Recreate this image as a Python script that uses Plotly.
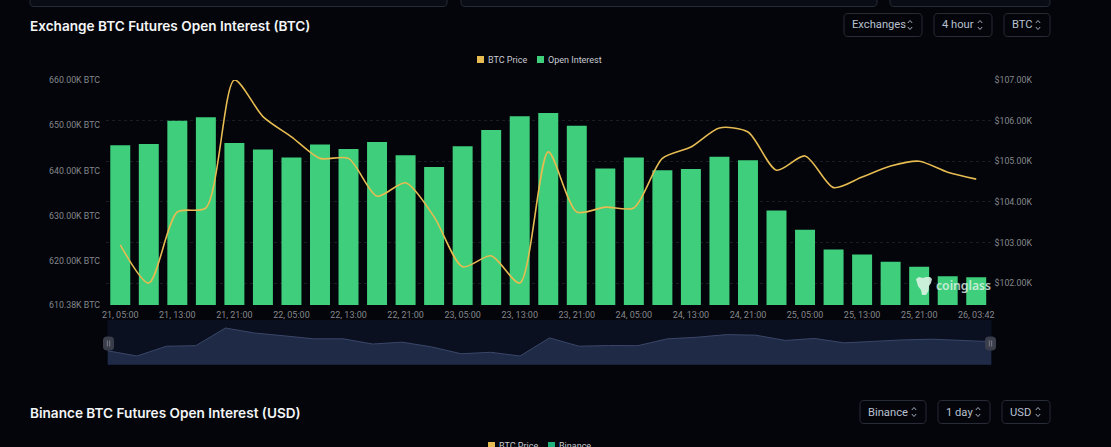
import plotly.graph_objects as go

W, H = 1111, 447

categories = ["21, 05:00","21, 09:00","21, 13:00","21, 17:00","21, 21:00","22, 01:00","22, 05:00","22, 09:00",
              "22, 13:00","22, 17:00","22, 21:00","23, 01:00","23, 05:00","23, 09:00","23, 13:00","23, 17:00",
              "23, 21:00","24, 01:00","24, 05:00","24, 09:00","24, 13:00","24, 17:00","24, 21:00","25, 01:00",
              "25, 05:00","25, 09:00","25, 13:00","25, 17:00","25, 21:00","26, 01:00","26, 03:42"]
open_interest = [645.6,645.9,651.0,651.8,646.1,644.7,642.9,645.8,644.8,646.3,643.4,640.8,645.4,649.0,652.0,652.7,
                 649.9,640.5,642.9,640.1,640.4,643.1,642.3,631.2,627.0,622.6,621.5,619.9,618.8,616.7,616.5]
btc_price = [102.94,102.0,103.75,103.85,107.0,106.1,105.6,105.07,105.07,104.14,104.47,103.63,102.4,102.67,102.0,105.23,
             103.75,103.87,103.85,105.07,105.35,105.82,105.72,104.78,105.13,104.35,104.61,104.88,105.0,104.73,104.56]
x_ticks = ["21, 05:00","21, 13:00","21, 21:00","22, 05:00","22, 13:00","22, 21:00","23, 05:00","23, 13:00",
           "23, 21:00","24, 05:00","24, 13:00","24, 21:00","25, 05:00","25, 13:00","25, 21:00","26, 03:42"]
oi_ticks = [610.38,620,630,640,650,660]
oi_labels = ["610.38K BTC","620.00K BTC","630.00K BTC","640.00K BTC","650.00K BTC","660.00K BTC"]
price_ticks = [102,103,104,105,106,107]
price_labels = ["$102.00K","$103.00K","$104.00K","$105.00K","$106.00K","$107.00K"]

BG = "#03050a"
GREEN = "#3fcf7c"
GOLD = "#e5bb52"
TICK = "#85878c"
BORDER = "#282c36"
FONT = "Roboto"
UI = "Inter"

def px(x): return x / W
def py(y): return 1 - y / H
def P(x, y): return f"{px(x):.5f},{py(y):.5f}"

fig = go.Figure()
fig.add_bar(x=categories, y=open_interest, marker=dict(color=GREEN, line_width=0), name="Open Interest",
            xaxis="x", yaxis="y", showlegend=False, hoverinfo="skip")
fig.add_scatter(x=categories, y=btc_price, mode="lines", name="BTC Price", xaxis="x", yaxis="y2", showlegend=False,
                line=dict(color=GOLD, width=1.6, shape="spline", smoothing=0.75), hoverinfo="skip")
fig.add_scatter(x=categories, y=btc_price, mode="lines", xaxis="x3", yaxis="y3", showlegend=False,
                line=dict(color="#3a4768", width=1), fill="tozeroy", fillcolor="#1f2a47", hoverinfo="skip")

shapes, annots = [], []

def text(x, y, s, size, color, anchor="left", family=FONT, weight=400, opacity=1):
    annots.append(dict(x=px(x), y=py(y), xref="paper", yref="paper", text=s, showarrow=False, xanchor=anchor,
                       yanchor="middle", opacity=opacity, xshift=0, yshift=0, borderpad=0, borderwidth=0,
                       font=dict(size=size, color=color, family=family, weight=weight)))

def paper_rr(x0, y0, x1, y1, r):
    return (f"M{P(x0+r,y0)} L{P(x1-r,y0)} Q{P(x1,y0)} {P(x1,y0+r)} L{P(x1,y1-r)} Q{P(x1,y1)} {P(x1-r,y1)} "
            f"L{P(x0+r,y1)} Q{P(x0,y1)} {P(x0,y1-r)} L{P(x0,y0+r)} Q{P(x0,y0)} {P(x0+r,y0)} Z")

def box(x0, y0, x1, y1, r=4, fill="#090c14", line=BORDER):
    shapes.append(dict(type="path", layer="below", fillcolor=fill, line=dict(color=line, width=1), xref="paper", yref="paper",
                       path=paper_rr(x0, y0, x1, y1, r)))

def chevrons(cx, cy, color="#a6adbb"):
    for s in (-1, 1):
        shapes.append(dict(type="path", xref="paper", yref="paper", line=dict(color=color, width=1),
                           path=f"M{P(cx-2.2,cy+s*2)} L{P(cx,cy+s*4.5)} L{P(cx+2.2,cy+s*2)}"))

def button(x0, x1, y0, y1, label):
    box(x0, y0, x1, y1, fill=BG)
    text(x0 + 7.5, (y0 + y1) / 2, label, 11.2, "#b9c0cf", family=FONT)
    chevrons(x1 - 12, (y0 + y1) / 2)

# cut-off controls at the very top
box(30, -12, 447, 6.5)
box(461, -12, 877, 6.5)
box(890, -12, 1050, 6.5)

text(30, 26, "Exchange BTC Futures Open Interest (BTC)", 13.6, "#f4f5f7", family=UI, weight=600)
text(30, 412.5, "Binance BTC Futures Open Interest (USD)", 13.6, "#f4f5f7", family=UI, weight=600)

button(844, 922, 13.5, 36.5, "Exchanges")
button(934, 992, 13.5, 36.5, "4 hour")
button(1004, 1050, 13.5, 36.5, "BTC")
button(860, 926, 400.5, 423.5, "Binance")
button(938, 990, 400.5, 423.5, "1 day")
button(1002, 1050, 400.5, 423.5, "USD")

def legend_item(x, y, color, label):
    shapes.append(dict(type="rect", xref="paper", yref="paper", x0=px(x), x1=px(x + 7), y0=py(y + 3.5), y1=py(y - 3.5),
                       fillcolor=color, line_width=0))
    text(x + 10.5, y, label, 9, "#c8cad0")

legend_item(477, 59.5, GOLD, "BTC Price")
legend_item(537, 59.5, GREEN, "Open Interest")
legend_item(488, 445.5, GOLD, "BTC Price")
legend_item(548, 445.5, "#1fb27a", "Binance")

# minimap handles
for cx in (108.5, 990.5):
    shapes.append(dict(type="path", xref="paper", yref="paper", layer="above", fillcolor="#3a3d4a",
                       line=dict(color="#3a3d4a", width=1), path=paper_rr(cx - 5, 337, cx + 5, 350, 3)))
    for dx in (-1.2, 1.2):
        shapes.append(dict(type="line", xref="paper", yref="paper", x0=px(cx + dx), x1=px(cx + dx), y0=py(340.5), y1=py(346.5),
                           line=dict(color="#8b8e99", width=0.8), layer="above"))

# coinglass watermark
logo = [(916,279),(919,277),(923,278),(926,277),(930,277),(932,279),(931,283),(929,286),(928.5,291),(926,295),(922,295),(921,290),(918,286)]
shapes.append(dict(type="path", xref="paper", yref="paper", layer="above", fillcolor="#d9f3e4", line_width=0, opacity=0.9,
                   path="M" + " L".join(P(*p) for p in logo) + " Z"))
text(936, 285.5, "coinglass", 12.2, "#e6f5ec", family="Noto Sans", weight=600, opacity=0.8)

fig.update_layout(
    width=W, height=H, autosize=False, margin=dict(l=0, r=0, t=0, b=0, pad=0, autoexpand=False),
    paper_bgcolor=BG, plot_bgcolor=BG, bargap=0.3, showlegend=False,
    shapes=shapes, annotations=annots,
    xaxis=dict(domain=[px(106), px(990.5)], type="category", categoryorder="array", categoryarray=categories,
               range=[-0.5, 30.5], tickmode="array", tickvals=x_ticks, ticktext=x_ticks, tickangle=0, ticklabelstandoff=3,
               tickfont=dict(size=9, color=TICK, family=FONT), showgrid=False, showline=False, zeroline=False, ticks="", ticklabeloverflow="allow"),
    yaxis=dict(domain=[py(305), py(80)], range=[610.38, 660], tickmode="array", tickvals=oi_ticks, ticktext=oi_labels, ticklabelstandoff=5,
               tickfont=dict(size=8.8, color=TICK, family=FONT), showgrid=False, zeroline=False, showline=False, ticks=""),
    yaxis2=dict(domain=[py(305), py(80)], overlaying="y", side="right", anchor="x", range=[101.46, 107], tickmode="array", ticklabelstandoff=3,
                tickvals=price_ticks, ticktext=price_labels, tickfont=dict(size=8.8, color=TICK, family=FONT),
                showgrid=True, gridcolor="#191c23", griddash="3px,3px", gridwidth=1, zeroline=False, showline=False, ticks=""),
    xaxis3=dict(domain=[px(107.5), px(991.5)], anchor="y3", type="category", categoryorder="array", categoryarray=categories,
                range=[0, 30], visible=False),
    yaxis3=dict(domain=[py(364.7), py(320)], anchor="x3", range=[100.45, 108.43], showgrid=False, zeroline=False,
                showticklabels=False, ticks="", showline=False),
)
fig.add_shape(type="rect", xref="x3 domain", yref="y3 domain", x0=0, x1=1, y0=0, y1=1, fillcolor="#0a1020", line_width=0, layer="below")

fig.write_html("out.html", config=dict(displayModeBar=False), post_script="document.body.style.margin='0';document.documentElement.style.overflow='hidden';")
